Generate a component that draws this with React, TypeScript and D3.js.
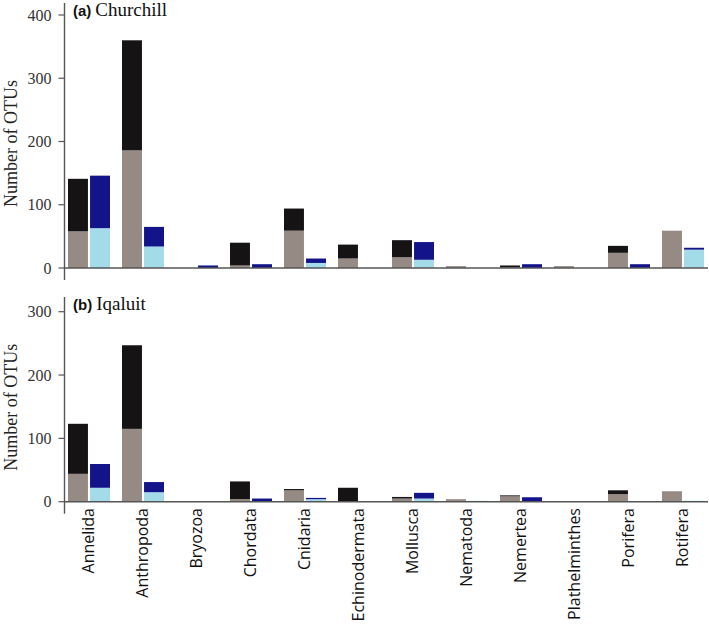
import React from "react";
import * as d3 from "d3";

const categories = [
  "Annelida", "Anthropoda", "Bryozoa", "Chordata", "Cnidaria", "Echinodermata",
  "Mollusca", "Nematoda", "Nemertea", "Plathelminthes", "Porifera", "Rotifera",
];

// Panel (a) Churchill
const churchillGrey = [58, 186, 0, 4, 59, 15, 17, 3, 1, 3, 24, 59];
const churchillBlack = [83, 174, 0, 36, 35, 22, 27, 0, 3, 0, 11, 0];
const churchillLight = [63, 34, 0, 0, 8, 0, 13, 0, 0, 0, 0, 29];
const churchillDark = [83, 31, 4, 6, 7, 0, 28, 0, 6, 0, 6, 3];

// Panel (b) Iqaluit
const iqaluitGrey = [44, 115, 0, 4, 18, 0, 5, 4, 8.5, 0, 12, 16.5];
const iqaluitBlack = [79, 132, 0, 28, 2, 22, 2.5, 0, 1.5, 0, 6, 0];
const iqaluitLight = [22, 15, 0, 0, 4, 0, 5, 1.5, 0, 0, 0, 1.5];
const iqaluitDark = [37.5, 16, 0, 5, 2, 1, 9, 0, 7, 0, 1, 0];

const ticksA = [0, 100, 200, 300, 400];
const ticksB = [0, 100, 200, 300];

const COLORS = {
  grey: "#968b84",
  black: "#151313",
  light: "#a3dbe8",
  dark: "#13148a",
};

const W = 709;
const H = 626;
const AXIS_X = 64.5;

const x = d3
  .scaleBand<string>()
  .domain(categories)
  .range([62, 710])
  .paddingInner(12 / 54)
  .paddingOuter(6 / 54);

const sub = d3.scaleBand<string>().domain(["s1", "s2"]).range([0, x.bandwidth()]).paddingInner(0.095);

type PanelProps = {
  label: string;
  site: string;
  yDomainMax: number;
  yRange: [number, number];
  axisTop: number;
  ticks: number[];
  grey: number[];
  black: number[];
  light: number[];
  dark: number[];
};

function Panel(p: PanelProps) {
  const y = d3.scaleLinear().domain([0, p.yDomainMax]).range(p.yRange);
  const base = y(0);
  const bars: React.ReactNode[] = [];
  categories.forEach((c, i) => {
    const x0 = (x(c) as number) + (sub("s1") as number);
    const x1 = (x(c) as number) + (sub("s2") as number);
    const bw = sub.bandwidth();
    const stacks: [number, number[], string[]][] = [
      [x0, [p.grey[i], p.black[i]], [COLORS.grey, COLORS.black]],
      [x1, [p.light[i], p.dark[i]], [COLORS.light, COLORS.dark]],
    ];
    stacks.forEach(([bx, vals, cols], k) => {
      let acc = 0;
      vals.forEach((v, j) => {
        if (v <= 0) return;
        const yTop = y(acc + v);
        const yBot = y(acc);
        bars.push(
          <rect
            key={`${c}-${k}-${j}`}
            x={bx}
            y={yTop}
            width={bw}
            height={yBot - yTop}
            fill={cols[j]}
          />
        );
        acc += v;
      });
    });
  });
  const yMid = (p.axisTop + base) / 2 + 8;
  return (
    <g>
      {bars}
      <line x1={AXIS_X} x2={708} y1={base} y2={base} stroke="#555" strokeWidth={1.6} />
      <line x1={AXIS_X} x2={AXIS_X} y1={p.axisTop} y2={base + 12} stroke="#555" strokeWidth={1.4} />
      {p.ticks.map((t) => (
        <g key={t}>
          <line x1={AXIS_X - 6} x2={AXIS_X} y1={y(t)} y2={y(t)} stroke="#555" strokeWidth={1.2} />
          <text
            x={AXIS_X - 13}
            y={y(t)}
            dy="0.35em"
            textAnchor="end"
            fontFamily="'Liberation Serif', serif"
            fontSize={16}
            fill="#333"
          >
            {t}
          </text>
        </g>
      ))}
      <text
        transform={`translate(17, ${yMid}) rotate(-90)`}
        textAnchor="middle"
        fontFamily="'Liberation Serif', serif"
        fontSize={18}
        fill="#222"
      >
        Number of OTUs
      </text>
      <text x={73} y={p.axisTop + 13} fill="#111">
        <tspan fontFamily="'Liberation Sans', Arial, sans-serif" fontWeight="bold" fontSize={15}>
          {p.label}
        </tspan>
        <tspan fontFamily="'Liberation Serif', serif" fontSize={19} dx={4}>
          {p.site}
        </tspan>
      </text>
    </g>
  );
}

export default function App() {
  return (
    <svg
      width={W}
      height={H}
      viewBox={`0 0 ${W} ${H}`}
      style={{ position: "absolute", left: 0, top: 0, background: "#fff" }}
    >
      <rect width={W} height={H} fill="#fff" />
      <Panel
        label="(a)"
        site="Churchill"
        yDomainMax={400}
        yRange={[268, 15]}
        axisTop={3}
        ticks={ticksA}
        grey={churchillGrey}
        black={churchillBlack}
        light={churchillLight}
        dark={churchillDark}
      />
      <Panel
        label="(b)"
        site="Iqaluit"
        yDomainMax={300}
        yRange={[501.7, 311.7]}
        axisTop={297}
        ticks={ticksB}
        grey={iqaluitGrey}
        black={iqaluitBlack}
        light={iqaluitLight}
        dark={iqaluitDark}
      />
      {categories.map((c) => (
        <text
          key={c}
          transform={`translate(${(x(c) as number) + x.bandwidth() / 2 - 1}, 508) rotate(-90)`}
          textAnchor="end"
          dy="0.35em"
          fontFamily="'Open Sans', sans-serif"
          fontSize={16}
          fill="#111"
        >
          {c}
        </text>
      ))}
    </svg>
  );
}
